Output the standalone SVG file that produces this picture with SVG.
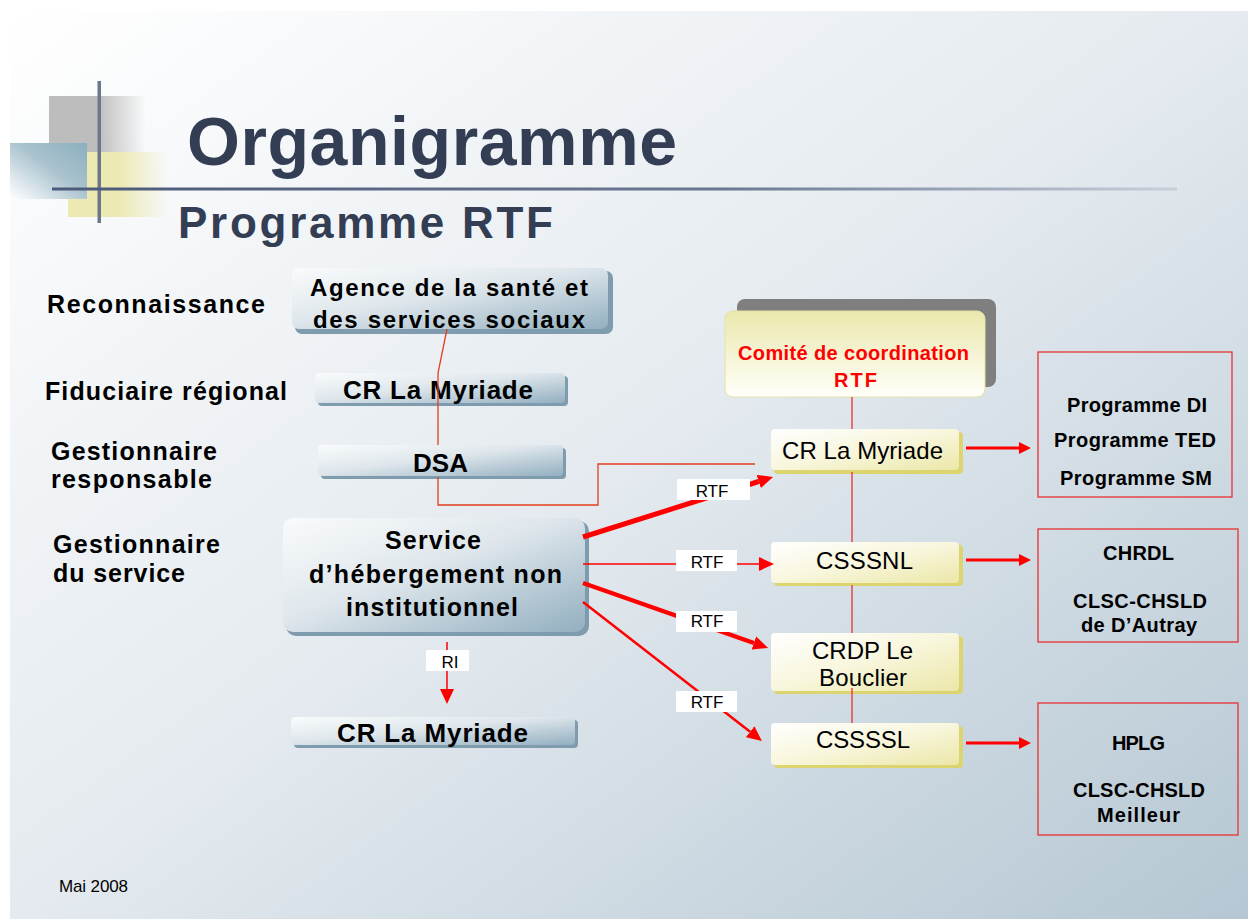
<svg xmlns="http://www.w3.org/2000/svg" width="1248" height="919" viewBox="0 0 1248 919">
<defs>
<linearGradient id="bg" x1="0" y1="0" x2="1" y2="1"><stop offset="0" stop-color="#ffffff"/><stop offset="0.5" stop-color="#e4eaef"/><stop offset="1" stop-color="#b5c7d3"/></linearGradient>
<linearGradient id="grey" x1="0" y1="0" x2="1" y2="0"><stop offset="0" stop-color="#bdbdbd"/><stop offset="0.5" stop-color="#bdbdbd"/><stop offset="1" stop-color="#bdbdbd" stop-opacity="0"/></linearGradient>
<linearGradient id="yel" x1="0" y1="0" x2="1" y2="0"><stop offset="0" stop-color="#ece9b3"/><stop offset="0.5" stop-color="#ece9b3"/><stop offset="1" stop-color="#ece9b3" stop-opacity="0"/></linearGradient>
<linearGradient id="blu" x1="1" y1="0" x2="0" y2="1"><stop offset="0" stop-color="#8cafbf"/><stop offset="0.45" stop-color="#a9c2ce"/><stop offset="1" stop-color="#ffffff"/></linearGradient>
<linearGradient id="hline" x1="0" y1="0" x2="1" y2="0"><stop offset="0" stop-color="#4c5a7a"/><stop offset="0.6" stop-color="#6a7892"/><stop offset="1" stop-color="#c8d0da"/></linearGradient>
<linearGradient id="bbox" x1="0" y1="0" x2="1" y2="1"><stop offset="0" stop-color="#f9fbfc"/><stop offset="0.45" stop-color="#dfe7ec"/><stop offset="1" stop-color="#93afc0"/></linearGradient>
<linearGradient id="ybox" x1="0" y1="0" x2="1" y2="1"><stop offset="0" stop-color="#ffffff"/><stop offset="0.5" stop-color="#f8f6dc"/><stop offset="1" stop-color="#ebe7a8"/></linearGradient>
<linearGradient id="cbox" x1="0" y1="0" x2="0" y2="1"><stop offset="0" stop-color="#ebe8ac"/><stop offset="1" stop-color="#fffffa"/></linearGradient>
<marker id="ah" markerUnits="userSpaceOnUse" markerWidth="15" markerHeight="14" refX="0" refY="7" orient="auto"><path d="M0,0 L15,7 L0,14 z" fill="#ff0000"/></marker>
<marker id="ahs" markerUnits="userSpaceOnUse" markerWidth="12" markerHeight="12" refX="0" refY="6" orient="auto"><path d="M0,0 L12,6 L0,12 z" fill="#ff0000"/></marker>
</defs>
<style>
.lab{font-family:"Liberation Sans",Arial,sans-serif;font-weight:bold;font-size:25px;fill:#000}
.nb{font-family:"Liberation Sans",Arial,sans-serif;font-weight:bold;fill:#000;text-anchor:middle}
.nr{font-family:"Liberation Sans",Arial,sans-serif;fill:#000;text-anchor:middle;font-size:24px}
.rb{font-family:"Liberation Sans",Arial,sans-serif;font-weight:bold;fill:#000;text-anchor:middle;font-size:20px}
.sh{fill:#7f9bae}
.bb{fill:url(#bbox)}
.ysh{fill:#dcd46e}
.yb{fill:url(#ybox)}
.rbox{fill:none;stroke:#e63232;stroke-width:1.3}
.thin{fill:none;stroke:#e0401c;stroke-width:1.3}
.arr{fill:none;stroke:#ff0000}
.lbl{fill:#ffffff}
.lt{font-family:"Liberation Sans",Arial,sans-serif;font-size:17px;fill:#000;text-anchor:middle}
</style>
<rect x="0" y="0" width="1248" height="919" fill="#ffffff"/>
<rect x="10" y="11" width="1238" height="908" fill="url(#bg)"/>
<g id="title-deco">
<rect x="49" y="96" width="97" height="56" fill="url(#grey)"/>
<rect x="68" y="152" width="100" height="65" fill="url(#yel)"/>
<rect x="10" y="143" width="77" height="56" fill="url(#blu)"/>
<rect x="97.5" y="81" width="3.5" height="142" fill="#6d778c"/>
<rect x="52" y="187.5" width="1125" height="3" fill="url(#hline)"/>
</g>
<g id="title">
<text x="187" y="165" font-family="Liberation Sans, Arial, sans-serif" font-weight="bold" font-size="68" fill="#333e54" textLength="490">Organigramme</text>
<text x="178" y="238" font-family="Liberation Sans, Arial, sans-serif" font-weight="bold" font-size="44" fill="#333e54" textLength="375">Programme RTF</text>
</g>
<g id="row-labels">
<text class="lab" x="47" y="313" textLength="218">Reconnaissance</text>
<text class="lab" x="45" y="400" textLength="242">Fiduciaire régional</text>
<text class="lab" x="51" y="460" textLength="166">Gestionnaire</text>
<text class="lab" x="51" y="488" textLength="161">responsable</text>
<text class="lab" x="53" y="553" textLength="167">Gestionnaire</text>
<text class="lab" x="53" y="582" textLength="132">du service</text>
</g>
<g id="n-agence">
<rect class="sh" x="295" y="271" width="318" height="63" rx="7"/>
<rect class="bb" x="292" y="268" width="316" height="61" rx="7"/>
<text class="nb" x="449" y="296" font-size="24" textLength="278">Agence de la santé et</text>
<text class="nb" x="449" y="328" font-size="24" textLength="272">des services sociaux</text>
</g>
<g id="n-myriade-fid">
<rect class="sh" x="318" y="376" width="250" height="30" rx="4"/>
<rect class="bb" x="315" y="373" width="250" height="30" rx="4"/>
<text class="nb" x="438" y="399" font-size="26" textLength="190">CR La Myriade</text>
</g>
<g id="n-dsa">
<rect class="sh" x="321" y="448" width="245" height="31" rx="4"/>
<rect class="bb" x="318" y="445" width="245" height="31" rx="4"/>
<text class="nb" x="440.5" y="472" font-size="26" textLength="55">DSA</text>
</g>
<g id="n-service">
<rect class="sh" x="286" y="521" width="303" height="115" rx="10"/>
<rect class="bb" x="283" y="518" width="302" height="114" rx="10"/>
<text class="nb" x="433" y="549" font-size="25" textLength="96">Service</text>
<text class="nb" x="435.5" y="583" font-size="25" textLength="253">d’hébergement non</text>
<text class="nb" x="432" y="616" font-size="25" textLength="172">institutionnel</text>
</g>
<g id="n-myriade-ri">
<rect class="sh" x="294" y="720" width="284" height="28" rx="4"/>
<rect class="bb" x="291" y="717" width="284" height="28" rx="4"/>
<text class="nb" x="432.5" y="742" font-size="26" textLength="191">CR La Myriade</text>
</g>
<g id="n-comite">
<rect x="737" y="299" width="259" height="88" rx="8" fill="#7f7f7f"/>
<rect x="725" y="311" width="260" height="86" rx="8" fill="url(#cbox)" stroke="#e6e2a6" stroke-width="1"/>
<text class="nb" x="853.5" y="360" font-size="20" style="fill:#ff0000" textLength="231">Comité de coordination</text>
<text class="nb" x="855.5" y="387" font-size="20" style="fill:#ff0000" textLength="43">RTF</text>
</g>
<g id="n-myriade-r">
<rect class="ysh" x="774" y="432" width="189" height="42" rx="4"/>
<rect class="yb" x="771" y="429" width="188" height="41" rx="4"/>
<text class="nr" x="862.5" y="459" textLength="161">CR La Myriade</text>
</g>
<g id="n-csssnl">
<rect class="ysh" x="774" y="545" width="189" height="41" rx="4"/>
<rect class="yb" x="771" y="542" width="188" height="41" rx="4"/>
<text class="nr" x="864.5" y="569" textLength="97">CSSSNL</text>
</g>
<g id="n-crdp">
<rect class="ysh" x="774" y="636" width="189" height="58" rx="4"/>
<rect class="yb" x="771" y="633" width="188" height="58" rx="4"/>
<text class="nr" x="862.5" y="659" textLength="101">CRDP Le</text>
<text class="nr" x="863" y="686" textLength="88">Bouclier</text>
</g>
<g id="n-cssssl">
<rect class="ysh" x="774" y="726" width="189" height="42" rx="4"/>
<rect class="yb" x="771" y="723" width="188" height="42" rx="4"/>
<text class="nr" x="863" y="748" textLength="94">CSSSSL</text>
</g>
<g id="n-programmes">
<rect class="rbox" x="1038" y="352" width="194" height="145"/>
<text class="rb" x="1137" y="412" textLength="140">Programme DI</text>
<text class="rb" x="1135" y="447" textLength="162">Programme TED</text>
<text class="rb" x="1136" y="485" textLength="152">Programme SM</text>
</g>
<g id="n-chrdl">
<rect class="rbox" x="1038" y="529" width="200" height="113"/>
<text class="rb" x="1138.5" y="560" textLength="71">CHRDL</text>
<text class="rb" x="1140" y="608" textLength="134">CLSC-CHSLD</text>
<text class="rb" x="1139" y="632" textLength="116">de D’Autray</text>
</g>
<g id="n-hplg">
<rect class="rbox" x="1038" y="703" width="200" height="132"/>
<text class="rb" x="1138.5" y="750" textLength="53">HPLG</text>
<text class="rb" x="1139" y="797" textLength="132">CLSC-CHSLD</text>
<text class="rb" x="1138.5" y="822" textLength="83">Meilleur</text>
</g>
<g id="connectors">
<polyline class="thin" points="447,329 438,373 438,445"/>
<polyline class="thin" points="438,477 438,505 598,505 598,464 755,464"/>
<line x1="852" y1="397" x2="852" y2="429" stroke="#e82020" stroke-width="1.2"/>
<line x1="852" y1="472" x2="852" y2="542" stroke="#e82020" stroke-width="1.2"/>
<line x1="852" y1="585" x2="852" y2="633" stroke="#e82020" stroke-width="1.2"/>
<line x1="852" y1="688" x2="852" y2="723" stroke="#e82020" stroke-width="1.2"/>
<line class="arr" x1="583" y1="537" x2="758.7" y2="481.5" stroke-width="5" marker-end="url(#ah)"/>
<line class="arr" x1="583" y1="564" x2="759" y2="564" stroke-width="1.5" marker-end="url(#ah)"/>
<line class="arr" x1="583" y1="583" x2="753.9" y2="643" stroke-width="4.5" marker-end="url(#ah)"/>
<line class="arr" x1="583" y1="602" x2="750.1" y2="731.8" stroke-width="2.5" marker-end="url(#ah)"/>
<line class="arr" x1="447" y1="642" x2="447" y2="689" stroke-width="1.5" marker-end="url(#ah)"/>
<line class="arr" x1="966" y1="448" x2="1019" y2="448" stroke-width="3" marker-end="url(#ahs)"/>
<line class="arr" x1="966" y1="560" x2="1019" y2="560" stroke-width="3" marker-end="url(#ahs)"/>
<line class="arr" x1="966" y1="743" x2="1019" y2="743" stroke-width="3" marker-end="url(#ahs)"/>
<rect class="lbl" x="677" y="479" width="73" height="21"/>
<text class="lt" x="712" y="497">RTF</text>
<rect class="lbl" x="676" y="550" width="61" height="21"/>
<text class="lt" x="707" y="568">RTF</text>
<rect class="lbl" x="676" y="611" width="61" height="21"/>
<text class="lt" x="707" y="627">RTF</text>
<rect class="lbl" x="676" y="691" width="61" height="21"/>
<text class="lt" x="707" y="708">RTF</text>
<rect class="lbl" x="426" y="650" width="43" height="21"/>
<text class="lt" x="450" y="668">RI</text>
</g>
<text x="59" y="892" font-family="Liberation Sans, Arial, sans-serif" font-size="17" fill="#000" textLength="69">Mai 2008</text>
</svg>
